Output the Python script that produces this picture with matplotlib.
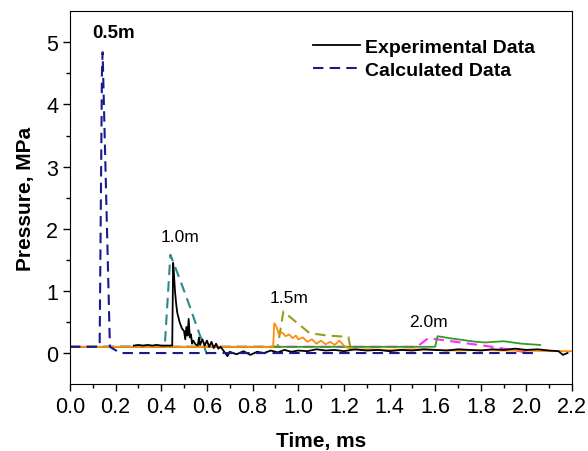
import matplotlib.pyplot as plt
import numpy as np

plt.rcParams['font.family'] = ['Liberation Sans', 'DejaVu Sans']

# Calculated data (dashed)
calc_05_t = [0.0, 0.13, 0.14, 0.143, 0.175, 0.22, 0.6, 1.2, 2.05]
calc_05_p = [0.1, 0.1, 4.5, 4.84, 0.1, 0.0, 0.0, 0.0, 0.0]

calc_10_t = [0.0, 0.415, 0.44, 0.48, 0.52, 0.56, 0.6]
calc_10_p = [0.1, 0.1, 1.58, 1.2, 0.8, 0.38, -0.02]

calc_15_t = [0.0, 0.91, 0.935, 0.99, 1.05, 1.13, 1.22, 1.23]
calc_15_p = [0.1, 0.1, 0.67, 0.5, 0.32, 0.28, 0.26, 0.05]

calc_20_t = [0.0, 1.52, 1.57, 1.65, 1.75, 1.85, 1.95, 2.02]
calc_20_p = [0.1, 0.1, 0.24, 0.2, 0.15, 0.1, 0.04, 0.0]

# Experimental data (solid)
exp_10_t = [0.28, 0.30, 0.32, 0.34, 0.36, 0.38, 0.40, 0.42, 0.44, 0.448, 0.452,
            0.455, 0.46, 0.465, 0.47, 0.48, 0.49, 0.50, 0.505, 0.51, 0.515, 0.52,
            0.525, 0.53, 0.535, 0.54, 0.55, 0.56, 0.565, 0.57, 0.58, 0.59, 0.60,
            0.61, 0.62, 0.63, 0.64, 0.65, 0.66, 0.67, 0.68, 0.69, 0.70, 0.73,
            0.76, 0.79, 0.82, 0.85, 0.88, 0.91, 0.94, 0.97, 1.00, 1.04, 1.08,
            1.12, 1.16, 1.20, 1.25, 1.30, 1.35, 1.40, 1.45, 1.50, 1.55, 1.60,
            1.65, 1.70, 1.75, 1.80, 1.85, 1.90, 1.95, 2.00, 2.05, 2.10, 2.14,
            2.16, 2.18]
exp_10_p = [0.12, 0.13, 0.12, 0.13, 0.12, 0.13, 0.12, 0.12, 0.12, 0.12, 1.45,
            1.3, 1.0, 0.8, 0.65, 0.5, 0.4, 0.35, 0.22, 0.42, 0.28, 0.55,
            0.25, 0.3, 0.15, 0.2, 0.14, 0.12, 0.25, 0.13, 0.22, 0.12, 0.2,
            0.1, 0.18, 0.08, 0.15, 0.07, 0.1, 0.05, 0.0, -0.05, 0.02, -0.02,
            0.03, -0.03, 0.02, 0.0, 0.04, 0.01, 0.05, 0.02, 0.04, 0.03, 0.06,
            0.04, 0.05, 0.03, 0.06, 0.04, 0.05, 0.03, 0.05, 0.04, 0.06, 0.05,
            0.04, 0.06, 0.05, 0.04, 0.06, 0.05, 0.07, 0.05, 0.06, 0.04, 0.03,
            -0.03, 0.0]

exp_15_t = [0.0, 0.89, 0.895, 0.905, 0.915, 0.93, 0.945, 0.96, 0.975, 0.99,
            1.0, 1.02, 1.04, 1.06, 1.08, 1.10, 1.12, 1.14, 1.16, 1.18, 1.20,
            1.22, 1.25, 1.30, 1.40, 1.50, 1.60, 1.70, 1.80, 1.90, 2.00, 2.10, 2.2]
exp_15_p = [0.1, 0.1, 0.48, 0.42, 0.3, 0.33, 0.27, 0.3, 0.24, 0.28,
            0.22, 0.25, 0.18, 0.22, 0.15, 0.2, 0.14, 0.18, 0.13, 0.2, 0.12,
            0.08, 0.05, 0.06, 0.05, 0.06, 0.05, 0.04, 0.05, 0.04, 0.04, 0.03, 0.03]

exp_20_t = [0.0, 1.6, 1.61, 1.63, 1.66, 1.70, 1.74, 1.78, 1.82, 1.86, 1.90,
            1.94, 1.98, 2.02, 2.06]
exp_20_p = [0.1, 0.1, 0.27, 0.26, 0.24, 0.22, 0.2, 0.18, 0.17, 0.18, 0.19,
            0.17, 0.15, 0.14, 0.13]

fig = plt.figure(figsize=(5.88, 4.52), dpi=100)
ax = fig.add_axes([0.119, 0.148, 0.854, 0.825])

dash = (0, (5, 3))
ax.plot(calc_20_t, calc_20_p, color='#ff2bff', lw=1.5, linestyle=dash)
ax.plot(calc_15_t, calc_15_p, color='#9a9a1e', lw=1.5, linestyle=dash)
ax.plot(calc_10_t, calc_10_p, color='#2a8a8a', lw=1.5, linestyle=dash)
ax.plot(exp_20_t, exp_20_p, color='#33992b', lw=1.3)
ax.plot(exp_15_t, exp_15_p, color='#ff8c0a', lw=1.3)
ax.plot(exp_10_t, exp_10_p, color='black', lw=1.3)
ax.plot(calc_05_t, calc_05_p, color='#1a1a8c', lw=1.5, linestyle=dash)

ax.text(0.19, 5.16, '0.5m', fontsize=13.5, fontweight='bold', ha='center', va='center')
ax.text(0.48, 1.87, '1.0m', fontsize=12.5, ha='center', va='center')
ax.text(0.96, 0.9, '1.5m', fontsize=12.5, ha='center', va='center')
ax.text(1.57, 0.5, '2.0m', fontsize=12.5, ha='center', va='center')

h1, = ax.plot([], [], color='black', lw=1.3)
h2, = ax.plot([], [], color='#1a1a8c', lw=1.5, linestyle=dash)
leg = ax.legend([h1, h2], ['Experimental Data', 'Calculated Data'], loc='upper left',
                bbox_to_anchor=(0.45, 0.975), frameon=False, handlelength=2.4,
                handletextpad=0.25, labelspacing=0.3, prop={'size': 14, 'weight': 'bold'})

ax.set_xlim(0, 2.2)
ax.set_ylim(-0.5, 5.5)
ax.set_xticks(np.arange(0, 2.21, 0.2))
ax.set_xticks(np.arange(0.1, 2.2, 0.2), minor=True)
ax.set_yticks(range(0, 6))
ax.set_yticks(np.arange(0.5, 5.1, 1.0), minor=True)
ax.tick_params(labelsize=15.5, direction='out', length=5, width=1)
ax.tick_params(which='minor', length=3, width=1)
ax.set_xlabel('Time, ms', fontsize=15, fontweight='bold', labelpad=10)
ax.set_ylabel('Pressure, MPa', fontsize=15, fontweight='bold', labelpad=8)

plt.savefig('out.png', dpi=100)
